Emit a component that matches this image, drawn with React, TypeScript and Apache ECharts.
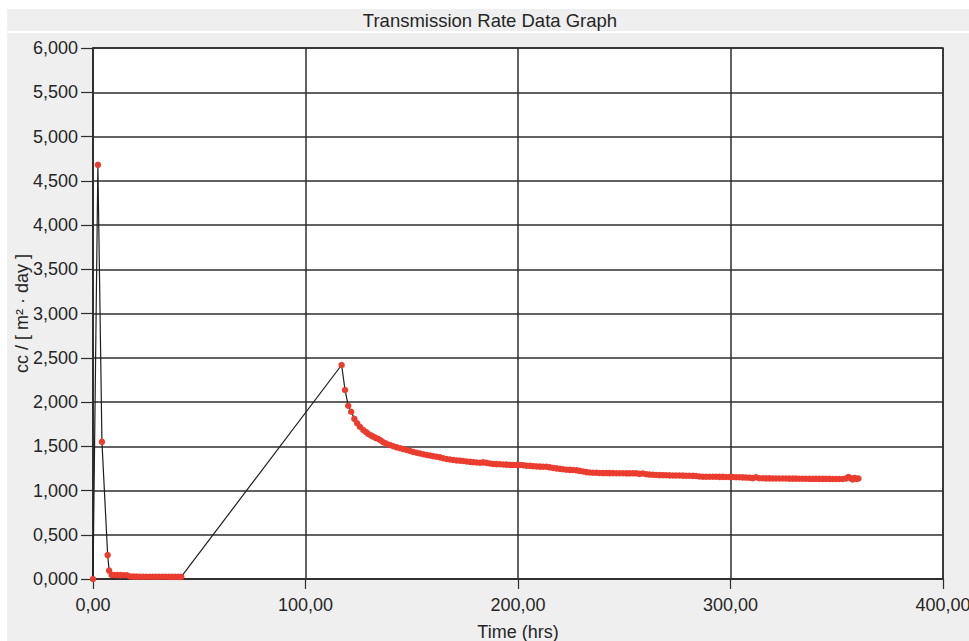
import React, { useEffect, useRef } from "react";
import * as echarts from "echarts";

const chartTitle = "Transmission Rate Data Graph";
const xAxisName = "Time (hrs)";
const yAxisName = "cc / [ m² · day ]";
const xTickLabels = ["0,00", "100,00", "200,00", "300,00", "400,00"];
const yTickLabels = [
  "0,000", "0,500", "1,000", "1,500", "2,000", "2,500", "3,000",
  "3,500", "4,000", "4,500", "5,000", "5,500", "6,000",
];

// [time (hrs), rate]
const spikePoints = [
  [0, 0], [2.3, 4680], [4.2, 1550], [6.9, 270], [7.6, 95],
];

const flatPoints = [
  [8.8, 45], [10, 45], [11.5, 44], [13, 44], [14.5, 43], [16, 42],
  [17.5, 28], [19, 27], [20.5, 27], [22, 26], [23.5, 26], [25, 26],
  [26.5, 26], [28, 25], [29.5, 25], [31, 25], [32.5, 25], [34, 25],
  [35.5, 25], [37, 24], [38.5, 24], [40, 24], [41.5, 24],
];

const decayPoints = [
  [117, 2418], [118.6, 2136], [120.1, 1958], [121.5, 1890], [123, 1810],
  [124.3, 1760], [125.6, 1721], [127.2, 1684], [128.5, 1660], [129.6, 1638],
  [131, 1620], [131.9, 1608], [133, 1595], [134.3, 1582], [135.5, 1565],
  [136.6, 1545], [138, 1530], [139.8, 1514], [141.3, 1500], [142.9, 1488],
  [144.5, 1478], [146, 1468], [147.6, 1458], [149.2, 1446], [150.7, 1436],
  [152.3, 1427], [153.9, 1418], [155.4, 1410], [157, 1401], [158.6, 1395],
  [160.1, 1388], [161.7, 1382], [163.3, 1375], [164.8, 1365], [166.4, 1356],
  [168, 1350], [169.5, 1345], [171.1, 1340], [172.7, 1337], [174.2, 1333],
  [175.8, 1328], [177.4, 1324], [178.9, 1320], [180.5, 1317], [182.1, 1314],
  [183.6, 1318], [185.2, 1312], [186.8, 1305], [188.3, 1300], [189.9, 1298],
  [191.5, 1296], [193, 1294], [194.6, 1292], [196.2, 1290], [197.7, 1289],
  [199.3, 1288], [200.9, 1288], [202.4, 1286], [204, 1280], [205.6, 1278],
  [207.1, 1275], [208.7, 1272], [210.3, 1270], [211.8, 1269], [213.4, 1269],
  [215, 1262], [216.5, 1255], [218.1, 1250], [219.7, 1245], [221.2, 1240],
  [222.8, 1235], [224.4, 1233], [225.9, 1232], [227.5, 1228], [229, 1222],
  [230.6, 1215], [232.2, 1208], [233.7, 1204], [235.3, 1201], [236.9, 1200],
  [238.4, 1198], [240, 1197], [241.6, 1197], [243.1, 1196], [244.7, 1196],
  [246.3, 1195], [247.8, 1195], [249.4, 1195], [251, 1194], [252.5, 1194],
  [254.1, 1194], [255.7, 1194], [257.2, 1188], [258.8, 1192], [260.4, 1184],
  [261.9, 1180], [263.5, 1178], [265, 1175], [266.6, 1174], [268.2, 1173],
  [269.7, 1172], [271.3, 1171], [272.9, 1170], [274.4, 1170], [276, 1169],
  [277.6, 1168], [279.1, 1167], [280.7, 1166], [282.3, 1165], [283.8, 1164],
  [285.4, 1158], [287, 1156], [288.5, 1155], [290.1, 1155], [291.7, 1155],
  [293.2, 1155], [294.8, 1154], [296.4, 1154], [297.9, 1153], [299.5, 1153],
  [301.1, 1152], [302.6, 1150], [304.2, 1150], [305.8, 1148], [307.3, 1146],
  [308.9, 1145], [310.5, 1140], [312, 1150], [313.6, 1138], [315.2, 1138],
  [316.7, 1137], [318.3, 1137], [319.9, 1136], [321.4, 1136], [323, 1135],
  [324.6, 1135], [326.1, 1135], [327.7, 1134], [329.3, 1134], [330.8, 1134],
  [332.4, 1133], [334, 1133], [335.5, 1133], [337.1, 1132], [338.7, 1132],
  [340.2, 1132], [341.8, 1131], [343.4, 1131], [344.9, 1131], [346.5, 1131],
  [348.1, 1130], [349.6, 1130], [351.2, 1130], [352.8, 1130], [354.3, 1135],
  [355.5, 1152], [356.5, 1140], [357.5, 1125], [358.5, 1142], [359.5, 1130],
  [360.2, 1136],
];

const FONT = "'Liberation Sans', Arial, sans-serif";
const TEXT = "#262626";
const GRIDC = "#2e2e2e";

export default function App() {
  const ref = useRef<HTMLDivElement>(null);

  useEffect(() => {
    if (!ref.current) return;
    const chart = echarts.init(ref.current, undefined, { renderer: "svg" });
    const allPoints = [...spikePoints, ...flatPoints, ...decayPoints];
    chart.setOption({
      animation: false,
      backgroundColor: "#efefef",
      graphic: [
        { type: "rect", shape: { x: 0, y: 0, width: 969, height: 9 }, style: { fill: "#ffffff" } },
        { type: "rect", shape: { x: 0, y: 0, width: 7, height: 641 }, style: { fill: "#ffffff" } },
        { type: "rect", shape: { x: 0, y: 31, width: 969, height: 2 }, style: { fill: "#ffffff" } },
        {
          type: "text",
          x: 490,
          y: 20,
          style: {
            text: chartTitle,
            fontSize: 18.5,
            fontFamily: FONT,
            fill: TEXT,
            textAlign: "center",
            textVerticalAlign: "middle",
          },
        },
      ],
      grid: {
        left: 93,
        top: 48,
        width: 850,
        height: 531,
        show: true,
        outerBoundsMode: "none",
        containLabel: false,
        backgroundColor: "#ffffff",
        borderColor: GRIDC,
        borderWidth: 1.5,
      },
      xAxis: {
        type: "value",
        min: 0,
        max: 400,
        interval: 100,
        name: xAxisName,
        nameLocation: "middle",
        nameGap: 44,
        nameMoveOverlap: false,
        nameTextStyle: { fontSize: 18, fontFamily: FONT, color: TEXT },
        axisLine: { show: true, lineStyle: { color: GRIDC, width: 1.5 } },
        axisTick: { show: true, length: 10, lineStyle: { color: GRIDC, width: 1.2 } },
        axisLabel: {
          margin: 17,
          fontSize: 18,
          fontFamily: FONT,
          color: TEXT,
          hideOverlap: false,
          formatter: (v: number) => xTickLabels[Math.round(v / 100)] ?? "",
        },
        splitLine: { show: true, lineStyle: { color: GRIDC, width: 1.5 } },
      },
      yAxis: {
        type: "value",
        min: 0,
        max: 6000,
        interval: 500,
        name: yAxisName,
        nameLocation: "middle",
        nameGap: 62,
        nameMoveOverlap: false,
        nameTextStyle: { fontSize: 18, fontFamily: FONT, color: TEXT },
        axisLine: { show: true, lineStyle: { color: GRIDC, width: 1.5 } },
        axisTick: { show: true, length: 12, lineStyle: { color: GRIDC, width: 1.2 } },
        axisLabel: {
          margin: 15,
          fontSize: 18,
          fontFamily: FONT,
          color: TEXT,
          formatter: (v: number) => yTickLabels[Math.round(v / 500)] ?? "",
        },
        splitLine: { show: true, lineStyle: { color: GRIDC, width: 1.5 } },
      },
      series: [
        {
          type: "line",
          data: allPoints,
          showSymbol: true,
          showAllSymbol: true,
          symbol: "circle",
          symbolSize: 6.5,
          itemStyle: { color: "#ea3d2f" },
          lineStyle: { color: "#1e1e1e", width: 1.2 },
          z: 5,
        },
      ],
    });
    return () => chart.dispose();
  }, []);

  return (
    <div
      ref={ref}
      style={{ position: "fixed", left: 0, top: 0, width: 969, height: 641 }}
    />
  );
}
